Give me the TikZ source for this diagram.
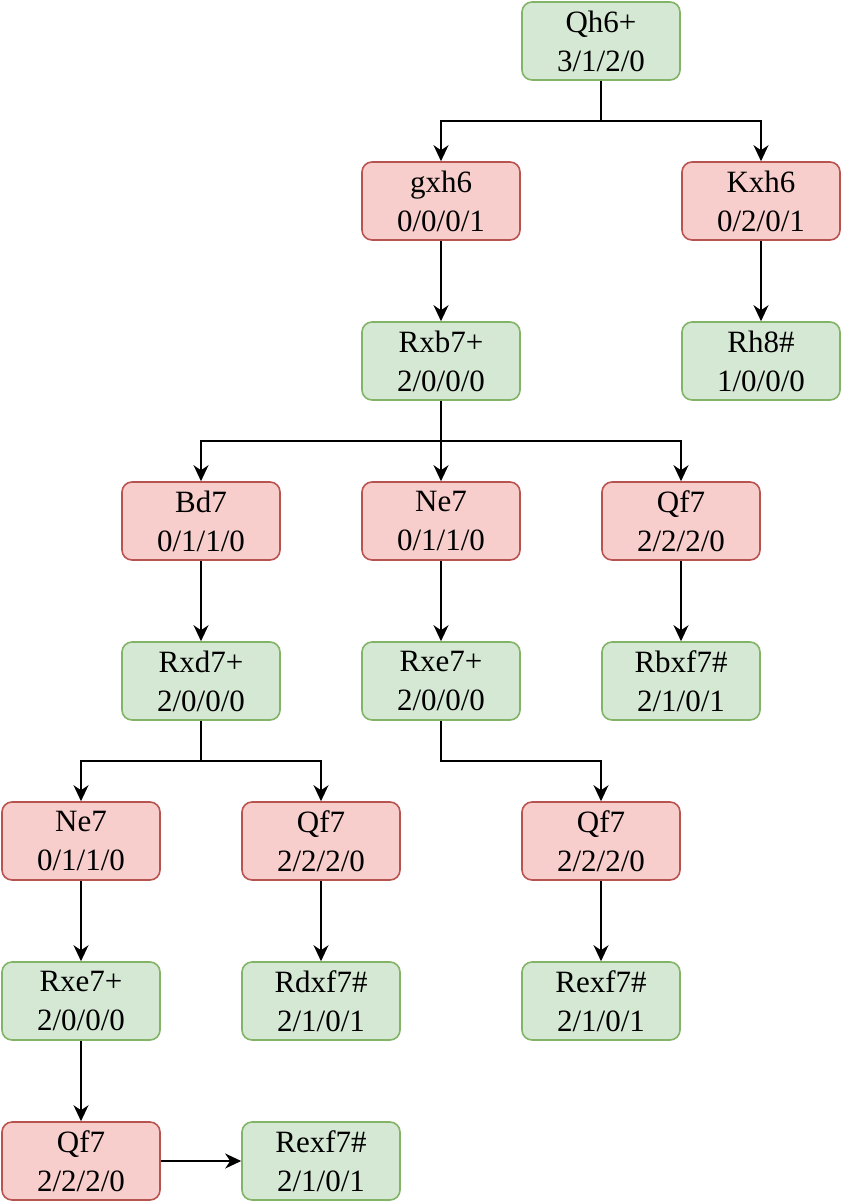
\documentclass[tikz,border=0pt]{standalone}
\usepackage{fontspec}
\setmainfont{Liberation Serif}
\usetikzlibrary{arrows.meta}
\definecolor{goodfill}{HTML}{D5E8D4}
\definecolor{goodline}{HTML}{82B366}
\definecolor{badfill}{HTML}{F8CECC}
\definecolor{badline}{HTML}{B85450}

\begin{document}
\begin{tikzpicture}[x=1pt,y=-1pt]
    \tikzstyle{move}=[rectangle, rounded corners=10pt, minimum width=158pt, minimum height=78pt, inner sep=0pt, line width=1.6pt, align=center, font=\fontsize{31}{39}\selectfont]
    \tikzstyle{good}=[move, fill=goodfill, draw=goodline]
    \tikzstyle{bad}=[move, fill=badfill, draw=badline]
    \tikzstyle{link}=[-{Stealth[length=16pt, width=15pt, inset=5pt]}, line width=1.6pt]
    \useasboundingbox (0,0) rectangle (842,1202);
    \node[good] (qh6) at (601,41) {Qh6+\\3/1/2/0};
    \node[bad] (gxh6) at (441,201) {gxh6\\0/0/0/1};
    \node[bad] (kxh6) at (761,201) {Kxh6\\0/2/0/1};
    \node[good] (rxb7) at (441,361) {Rxb7+\\2/0/0/0};
    \node[good] (rh8) at (761,361) {Rh8\#\\1/0/0/0};
    \node[bad] (bd7) at (201,521) {Bd7\\0/1/1/0};
    \node[bad] (ne7a) at (441,521) {Ne7\\0/1/1/0};
    \node[bad] (qf7a) at (681,521) {Qf7\\2/2/2/0};
    \node[good] (rxd7) at (201,681) {Rxd7+\\2/0/0/0};
    \node[good] (rxe7a) at (441,681) {Rxe7+\\2/0/0/0};
    \node[good] (rbxf7) at (681,681) {Rbxf7\#\\2/1/0/1};
    \node[bad] (ne7b) at (81,841) {Ne7\\0/1/1/0};
    \node[bad] (qf7b) at (321,841) {Qf7\\2/2/2/0};
    \node[bad] (qf7c) at (601,841) {Qf7\\2/2/2/0};
    \node[good] (rxe7b) at (81,1001) {Rxe7+\\2/0/0/0};
    \node[good] (rdxf7) at (321,1001) {Rdxf7\#\\2/1/0/1};
    \node[good] (rexf7a) at (601,1001) {Rexf7\#\\2/1/0/1};
    \node[bad] (qf7d) at (81,1161) {Qf7\\2/2/2/0};
    \node[good] (rexf7b) at (321,1161) {Rexf7\#\\2/1/0/1};
    % branching links
    \foreach \a/\b in {qh6/gxh6, qh6/kxh6, rxb7/bd7, rxb7/qf7a, rxd7/ne7b, rxd7/qf7b, rxe7a/qf7c}
        \draw[link] (\a.south) -- ++(0,40) -| (\b.north);
    % straight links
    \foreach \a/\b in {gxh6/rxb7, kxh6/rh8, rxb7/ne7a, bd7/rxd7, ne7a/rxe7a, qf7a/rbxf7, ne7b/rxe7b, qf7b/rdxf7, qf7c/rexf7a, rxe7b/qf7d, qf7d/rexf7b}
        \draw[link] (\a) -- (\b);
\end{tikzpicture}
\end{document}
